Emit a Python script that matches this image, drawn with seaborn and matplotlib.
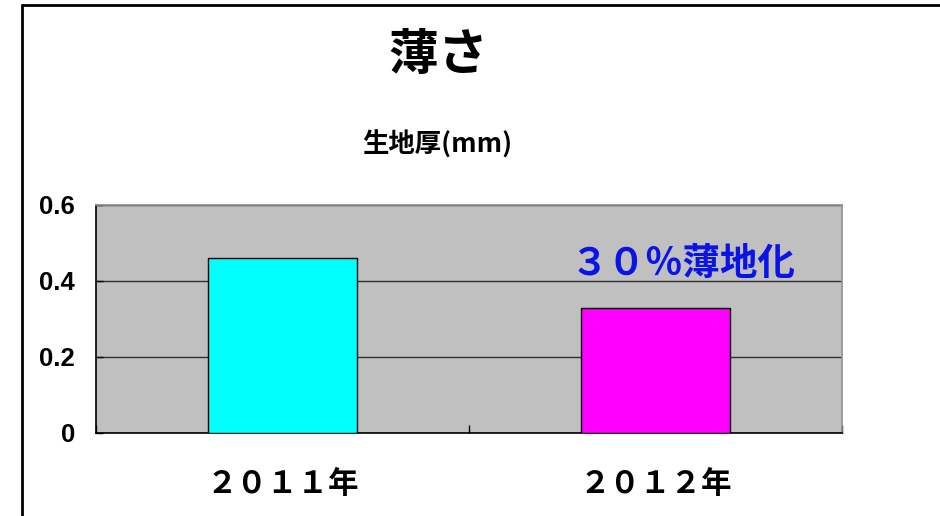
import numpy as np
import pandas as pd
import matplotlib
matplotlib.use('Agg')
import matplotlib.pyplot as plt
from matplotlib.lines import Line2D
import seaborn as sns

# データ
years = ['２０１１年', '２０１２年']
thickness = [0.46, 0.33]
bar_colors = ['#00FFFF', '#FF00FF']
y_ticks = [0, 0.2, 0.4, 0.6]
y_tick_labels = ['0', '0.2', '0.4', '0.6']
title = '薄さ'
subtitle = '生地厚(mm)'
note = '３０％薄地化'

sns.set_style('white')
plt.rcParams['font.family'] = ['Noto Sans CJK JP', 'DejaVu Sans']
plt.rcParams['text.color'] = 'black'
plt.rcParams['xtick.color'] = 'black'
plt.rcParams['ytick.color'] = 'black'

df = pd.DataFrame({'year': years, 'thickness': thickness})

fig = plt.figure(figsize=(9.4, 5.16), dpi=100)
ax = fig.add_axes([96 / 940, 1 - 433 / 516, 746 / 940, 228 / 516])
ax.set_facecolor('#C0C0C0')

sns.barplot(data=df, x='year', y='thickness', hue='year', palette=bar_colors,
            legend=False, width=0.4, edgecolor='black', linewidth=1,
            saturation=1, ax=ax, zorder=3)

ax.set_ylim(0, 0.6)
ax.set_xlim(-0.5, 1.5)
ax.set_yticks(y_ticks)
ax.set_yticklabels(y_tick_labels, fontfamily='Liberation Sans', fontsize=18.5, fontweight='bold')
for lbl in ax.get_xticklabels():
    lbl.set_fontweight('bold')
    lbl.set_fontsize(22)
ax.yaxis.grid(True, color='#303030', linewidth=1)
ax.set_axisbelow(True)
ax.set_xlabel('')
ax.set_ylabel('')

# 目盛り
ax.tick_params(axis='y', direction='in', length=5, width=1, color='black', pad=15, left=True)
ax.tick_params(axis='x', which='major', length=0, pad=25)
ax.set_xticks([-0.5, 0.5, 1.5], minor=True)
ax.tick_params(axis='x', which='minor', direction='in', length=6, width=1, color='black', bottom=True)

for s in ['left', 'bottom']:
    ax.spines[s].set_color('black')
    ax.spines[s].set_linewidth(1.2)
for s in ['top', 'right']:
    ax.spines[s].set_color('#909090')
    ax.spines[s].set_linewidth(1.2)

# 注記
ax.text(1.075, 0.447, note, color='#0A14E6', fontsize=27, fontweight='bold',
        ha='center', va='center')

# タイトル
fig.text(438 / 940, 1 - 56 / 516, title, fontsize=36, fontweight='bold', ha='center', va='center')
fig.text(437 / 940, 1 - 145 / 516, subtitle, fontsize=19, fontweight='bold', ha='center', va='center')

# 外枠
fig.add_artist(Line2D([22 / 940, 22 / 940], [0, 1 - 5 / 516], color='black', linewidth=2,
                      transform=fig.transFigure))
fig.add_artist(Line2D([22 / 940, 1], [1 - 5 / 516, 1 - 5 / 516], color='black', linewidth=2,
                      transform=fig.transFigure))

fig.savefig('out.png', dpi=100, facecolor='white')
